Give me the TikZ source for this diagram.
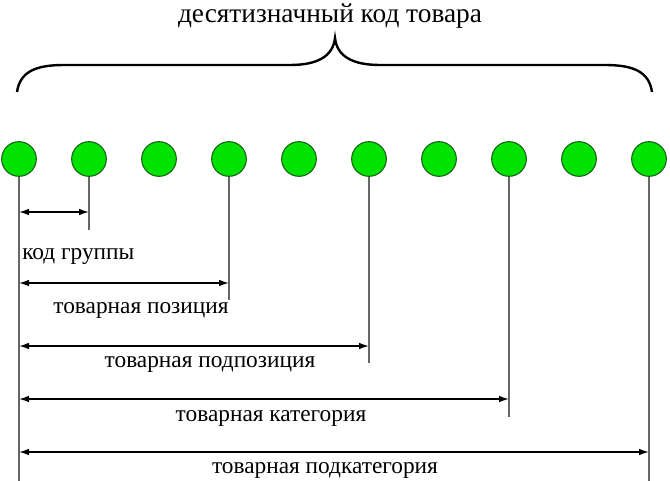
\documentclass[tikz,border=0pt]{standalone}
\usepackage{fontspec}
\setmainfont{Liberation Serif}
\usetikzlibrary{arrows.meta}
\definecolor{digitgreen}{RGB}{0,226,0}
\definecolor{digitedge}{RGB}{25,95,25}
\begin{document}
\begin{tikzpicture}[
        x=0.75pt, y=-0.75pt,
        >={Latex[length=7.5pt,width=5pt]},
        digit/.style={circle, draw=digitedge, fill=digitgreen, line width=0.8pt,
            minimum size=26pt, inner sep=0pt},
        stem/.style={draw=black!60, line width=1.1pt},
        digitspan/.style={<->, line width=1.1pt},
        partname/.style={font=\fontsize{17.5}{20}\selectfont, inner sep=0pt}
    ]
        \useasboundingbox (0,0) rectangle (670,481);
        \node[font=\fontsize{20.5}{24}\selectfont, inner sep=0pt] (title) at (330,16)
            {десятизначный код товара};
        % brace over the ten digits
        \draw[line width=1.8pt] (17,92) .. controls (20,72) and (35,65) .. (64,65)
            -- (290,65) .. controls (318,65) and (333,56) .. (335,38)
            .. controls (337,56) and (352,65) .. (380,65)
            -- (605,65) .. controls (634,65) and (649,72) .. (652,92);
        \foreach \i in {0,...,9}
            \node[digit] (d\i) at (19+70*\i,159) {};
        \coordinate (e0) at (19,481);
        \coordinate (e1) at (89,230);
        \coordinate (e3) at (229,300);
        \coordinate (e5) at (369,363);
        \coordinate (e7) at (509,417);
        \coordinate (e9) at (649,481);
        \draw[stem] (d0) -- (e0);
        \draw[stem] (d1) -- (e1);
        \draw[stem] (d3) -- (e3);
        \draw[stem] (d5) -- (e5);
        \draw[stem] (d7) -- (e7);
        \draw[stem] (d9) -- (e9);
        \coordinate (r1) at (0,212);
        \coordinate (r2) at (0,283);
        \coordinate (r3) at (0,346);
        \coordinate (r4) at (0,399);
        \coordinate (r5) at (0,452);
        \draw[digitspan] (d0 |- r1) -- (d1 |- r1);
        \draw[digitspan] (d0 |- r2) -- (d3 |- r2);
        \draw[digitspan] (d0 |- r3) -- (d5 |- r3);
        \draw[digitspan] (d0 |- r4) -- (d7 |- r4);
        \draw[digitspan] (d0 |- r5) -- (d9 |- r5);
        \node[partname, anchor=west] (group) at (22,257) {код группы};
        \node[partname] (heading) at (141,310) {товарная позиция};
        \node[partname] (subheading) at (210,364) {товарная подпозиция};
        \node[partname] (category) at (271,418) {товарная категория};
        \node[partname] (subcategory) at (325,470) {товарная подкатегория};
    \end{tikzpicture}
\end{document}
